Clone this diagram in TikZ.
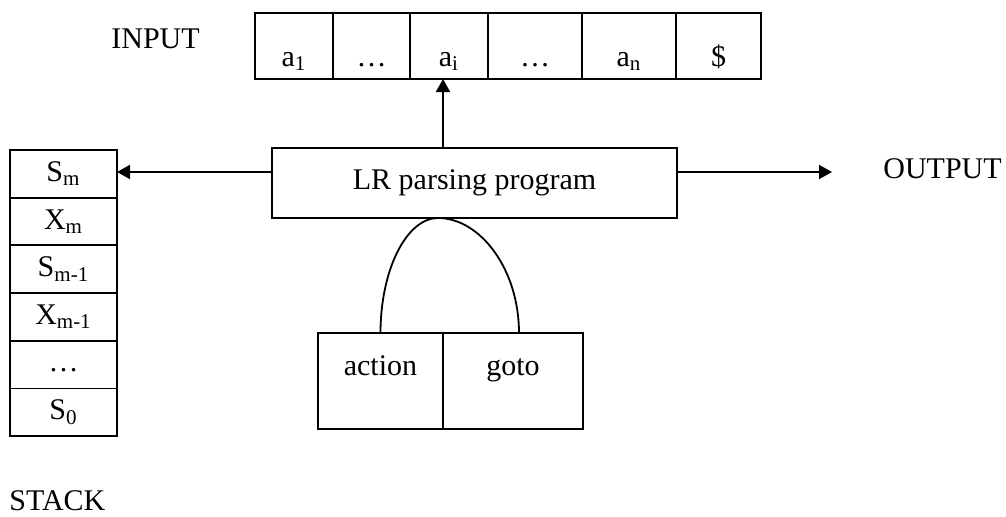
\documentclass[tikz,border=0pt]{standalone}
\usepackage{fontspec}
\setmainfont{Liberation Serif}
\usetikzlibrary{arrows.meta,positioning}

\tikzset{
  box/.style={draw, line width=0.9pt, outer sep=0pt, inner sep=2pt},
  cell/.style={box, minimum height=33pt, text height=20pt, text depth=0pt},
  slot/.style={box, minimum width=53.5pt, minimum height=23.85pt},
  tbl/.style={box, minimum height=48pt, text height=6pt, text depth=12pt},
  arr/.style={-{Triangle[width=7pt,length=6.5pt]}, line width=0.9pt},
  lbl/.style={inner sep=0pt, anchor=base west},
}

\begin{document}
\begin{tikzpicture}[x=0.5pt,y=-0.5pt,font=\fontsize{15}{18}\selectfont]
  \useasboundingbox (0,0) rectangle (1006,516);

  % input tape
  \node[lbl] (input) at (111,48) {INPUT};
  \node[cell, minimum width=39pt, anchor=west] (a1) at (255,46) {a\textsubscript{1}};
  \node[cell, minimum width=38.5pt, right=0pt of a1] (dots1) {\dots};
  \node[cell, minimum width=39pt, right=0pt of dots1] (ai) {a\textsubscript{i}};
  \node[cell, minimum width=47pt, right=0pt of ai] (dots2) {\dots};
  \node[cell, minimum width=47pt, right=0pt of dots2] (an) {a\textsubscript{n}};
  \node[cell, minimum width=42.5pt, right=0pt of an] (end) {\$};

  % driver
  \node[box, minimum width=202.5pt, minimum height=35pt] (lr) at (474.5,183) {LR parsing program};
  \node[tbl, minimum width=62.5pt, anchor=north east] (action) at (443,333) {action};
  \node[tbl, minimum width=70pt, right=0pt of action] (goto) {goto};

  % stack
  \node[slot] (sm) at (63.5,173.8) {S\textsubscript{m}};
  \node[slot, below=0pt of sm] (xm) {X\textsubscript{m}};
  \node[slot, below=0pt of xm] (sm1) {S\textsubscript{m-1}};
  \node[slot, below=0pt of sm1] (xm1) {X\textsubscript{m-1}};
  \node[slot, below=0pt of xm1, text height=7pt, text depth=0pt] (sdots) {\dots};
  \node[slot, below=0pt of sdots] (s0) {S\textsubscript{0}};
  \node[lbl] (stack) at (9,510) {STACK};

  \node[lbl] (output) at (883,178) {OUTPUT};
  \coordinate (outtip) at (832,172);
  \coordinate (peak) at (438,218);

  % connectors
  \draw[arr] (action.east |- lr.north) -- (action.east |- ai.south);
  \draw[arr] (lr.west |- outtip) -- (sm.east |- outtip);
  \draw[arr] (lr.east |- outtip) -- (outtip);
  \draw[line width=0.9pt] (action.north) .. controls +(0,-64) and +(-31,0) .. (peak)
    .. controls +(42,0) and +(0,-64) .. ([xshift=3pt]goto.north);
\end{tikzpicture}
\end{document}
